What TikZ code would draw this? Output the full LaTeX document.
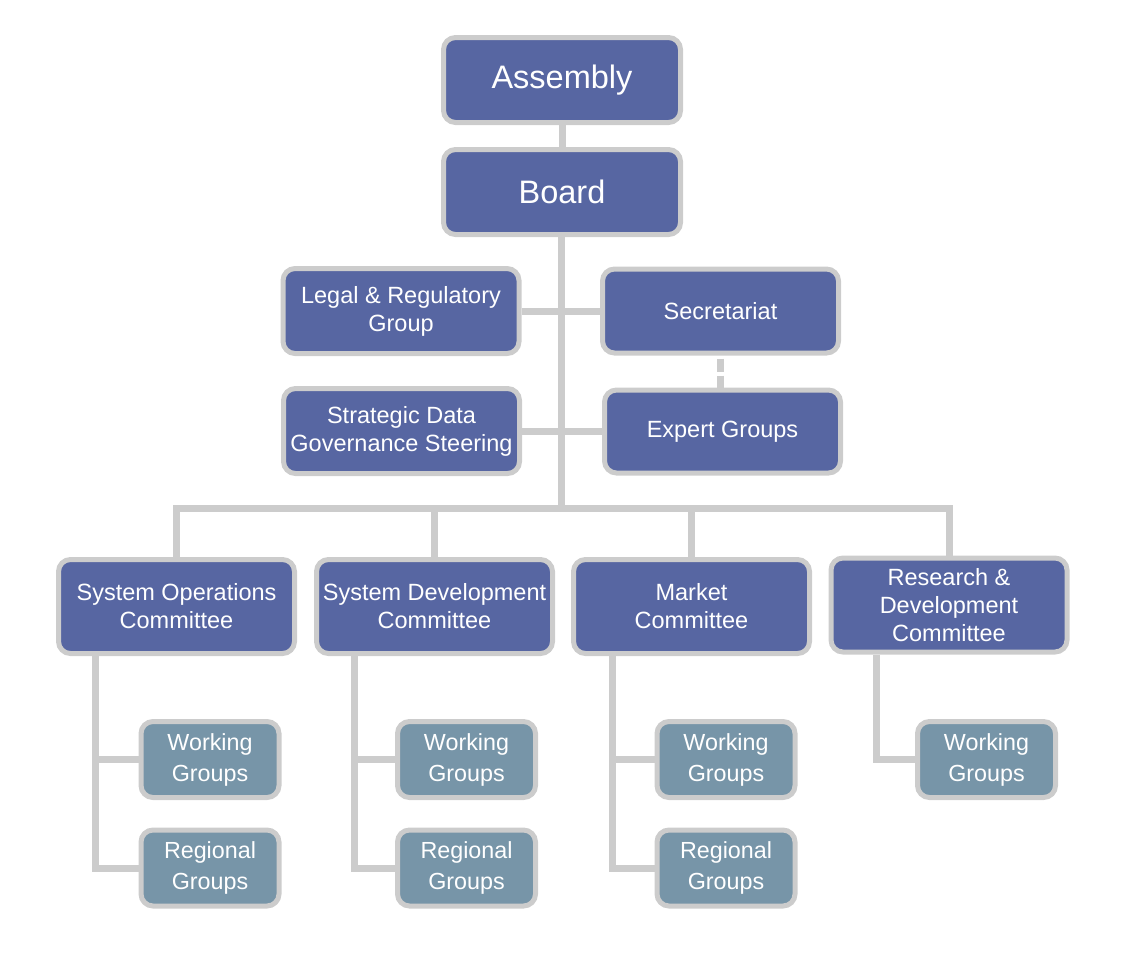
\documentclass[tikz,border=0pt]{standalone}
\usepackage{fontspec}
\setmainfont{Liberation Sans}
\usetikzlibrary{backgrounds}
\definecolor{boxblue}{HTML}{5766A2}
\definecolor{boxsteel}{HTML}{7795A8}
\definecolor{edgegray}{HTML}{CCCCCC}
\begin{document}
\begin{tikzpicture}[x=1pt,y=-1pt,
  basebox/.style={draw=edgegray, line width=5pt, rounded corners=12pt, text=white, align=center, inner sep=0pt},
  topbox/.style={basebox, fill=boxblue, minimum width=237pt, minimum height=85pt, font=\fontsize{32.5}{38}\selectfont},
  midbox/.style={basebox, fill=boxblue, minimum width=236pt, minimum height=85pt, font=\fontsize{23.5}{28}\selectfont},
  combox/.style={basebox, fill=boxblue, minimum width=236pt, minimum height=94pt, font=\fontsize{23.5}{28}\selectfont},
  grpbox/.style={basebox, fill=boxsteel, minimum width=138pt, minimum height=76pt, font=\fontsize{23.3}{31}\selectfont},
  link/.style={draw=edgegray, line width=7pt, line join=miter},
  dlink/.style={draw=edgegray, line width=7pt, dash pattern=on 13pt off 4pt, dash phase=-3pt}
]
\useasboundingbox (0,0) rectangle (1121,970);

\node[topbox] (asm) at (562,80) {Assembly};
\node[topbox] (board) at (562,192) {Board};

\node[midbox] (legal) at (401,311) {Legal \& Regulatory\\Group};
\node[midbox, minimum height=84pt] (sec) at (720.5,311) {Secretariat};
\node[midbox] (sdg) at (401.5,431) {Strategic Data\\Governance Steering};
\node[midbox, minimum height=83pt] (exp) at (722.5,431.5) {Expert Groups};

\node[combox] (soc) at (176.5,606.5) {System Operations\\Committee};
\node[combox] (sdc) at (434.5,606.5) {System Development\\Committee};
\node[combox] (mkt) at (691.5,606.5) {Market\\Committee};
\node[combox] (rdc) at (949,605) {Research \&\\Development\\Committee};

\node[grpbox] (wg1) at (210,759.5) {Working\\Groups};
\node[grpbox] (rg1) at (210,868) {Regional\\Groups};
\node[grpbox] (wg2) at (466.5,759.5) {Working\\Groups};
\node[grpbox] (rg2) at (466.5,868) {Regional\\Groups};
\node[grpbox] (wg3) at (726,759.5) {Working\\Groups};
\node[grpbox] (rg3) at (726,868) {Regional\\Groups};
\node[grpbox] (wg4) at (986.5,759.5) {Working\\Groups};

\coordinate (bus) at (561.5,508.5);
\coordinate (br1) at (95,0);
\coordinate (br2) at (354,0);
\coordinate (br3) at (612,0);
\coordinate (br4) at (876,0);

\begin{pgfonlayer}{background}
  \draw[link] (asm) -- (board);
  \draw[link] (board.south -| bus) -- (bus);
  \draw[link] (legal.east) -- (sec.west);
  \draw[link] (sdg.east) -- (sdg.east -| exp.west);
  \draw[dlink] (sec.south) -- (sec.south |- exp.north);
  \draw[link] (soc.north) -- (soc.north |- bus) -- (rdc.north |- bus) -- (rdc.north);
  \draw[link] (sdc.north) -- (sdc.north |- bus);
  \draw[link] (mkt.north) -- (mkt.north |- bus);
  \draw[link] (soc.south -| br1) |- (rg1.west);
  \draw[link] (wg1.west -| br1) -- (wg1.west);
  \draw[link] (sdc.south -| br2) |- (rg2.west);
  \draw[link] (wg2.west -| br2) -- (wg2.west);
  \draw[link] (mkt.south -| br3) |- (rg3.west);
  \draw[link] (wg3.west -| br3) -- (wg3.west);
  \draw[link] (rdc.south -| br4) |- (wg4.west);
\end{pgfonlayer}
\end{tikzpicture}
\end{document}
